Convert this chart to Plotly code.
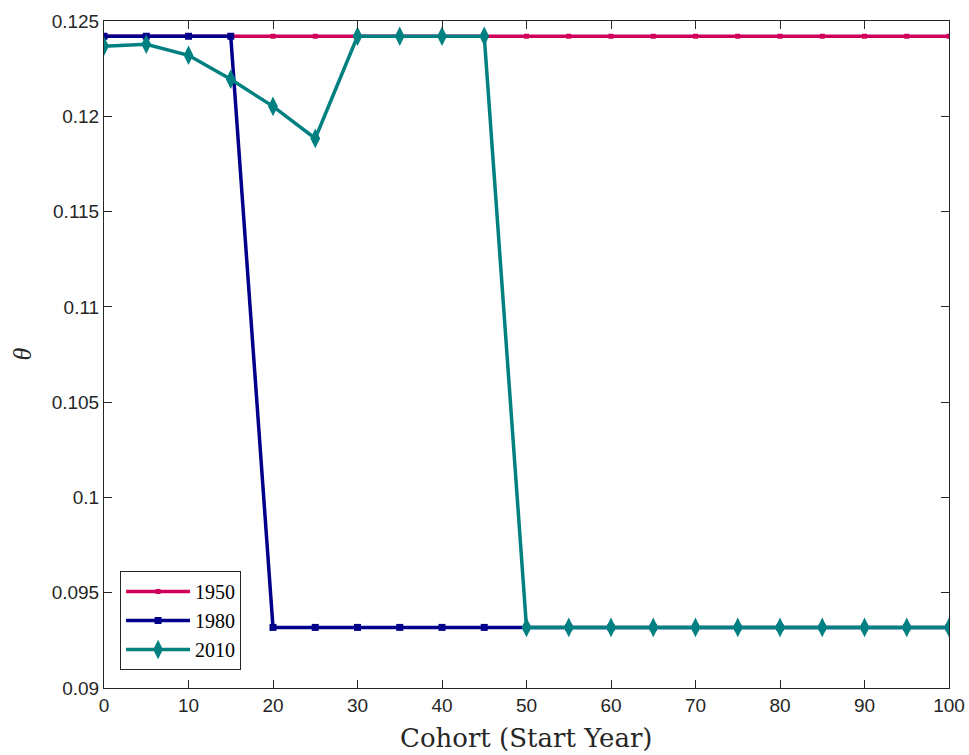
import plotly.graph_objects as go

cohort = [0, 5, 10, 15, 20, 25, 30, 35, 40, 45, 50, 55, 60, 65, 70, 75, 80, 85, 90, 95, 100]
theta_1950 = [0.12420] * 21
theta_1980 = [0.12420, 0.12420, 0.12420, 0.12420] + [0.09318] * 17
theta_2010 = [0.12368, 0.12378, 0.12320, 0.12194, 0.12052, 0.11884,
              0.12420, 0.12420, 0.12420, 0.12420] + [0.09318] * 11

y_tickvals = [0.09, 0.095, 0.1, 0.105, 0.11, 0.115, 0.12, 0.125]
y_ticktext = ["0.09", "0.095", "0.1", "0.105", "0.11", "0.115", "0.12", "0.125"]
x_tickvals = [0, 10, 20, 30, 40, 50, 60, 70, 80, 90, 100]
x_title = "Cohort (Start Year)"
y_title = "<i>θ</i>"

fig = go.Figure()
fig.add_trace(go.Scatter(x=cohort, y=theta_1950, name="1950", mode="lines+markers",
                         line=dict(color="#D0005A", width=3.5),
                         marker=dict(symbol="square", size=5, color="#D0005A")))
fig.add_trace(go.Scatter(x=cohort, y=theta_1980, name="1980", mode="lines+markers",
                         line=dict(color="#00008B", width=3.5),
                         marker=dict(symbol="square", size=7, color="#00008B")))
fig.add_trace(go.Scatter(x=cohort, y=theta_2010, name="2010", mode="lines+markers",
                         line=dict(color="#008080", width=3.5),
                         marker=dict(symbol="diamond-tall", size=14, color="#008080")))

axis_common = dict(showline=True, linecolor="#262626", linewidth=1, mirror="ticks",
                   ticks="inside", ticklen=8, tickcolor="#262626", tickwidth=1,
                   showgrid=False, zeroline=False, automargin=False,
                   tickfont=dict(family="Liberation Sans, Arial", size=19, color="#262626"))

fig.update_layout(
    width=969, height=755,
    margin=dict(l=104, r=20, t=21, b=67),
    plot_bgcolor="white", paper_bgcolor="white",
    showlegend=True,
    legend=dict(x=0.019, y=0.027, xanchor="left", yanchor="bottom",
                bgcolor="white", bordercolor="#262626", borderwidth=1,
                font=dict(family="Liberation Serif, DejaVu Serif", size=20, color="black"),
                tracegroupgap=0, itemwidth=64),
    xaxis=dict(range=[0, 100], tickvals=x_tickvals, **axis_common),
    yaxis=dict(range=[0.09, 0.125], tickvals=y_tickvals, ticktext=y_ticktext, **axis_common),
    annotations=[
        dict(text=x_title, xref="paper", yref="paper", x=0.5, y=0, xanchor="center",
             yanchor="middle", yshift=-50, showarrow=False,
             font=dict(family="DejaVu Serif", size=26, color="#262626")),
        dict(text=y_title, xref="paper", yref="paper", x=0, y=0.5, xanchor="center",
             yanchor="middle", xshift=-82, textangle=-90, showarrow=False,
             font=dict(family="Liberation Serif, DejaVu Serif", size=26, color="#262626")),
    ],
)

fig.write_html("out.html", config={"displayModeBar": False},
               post_script="document.body.style.margin='0';")
